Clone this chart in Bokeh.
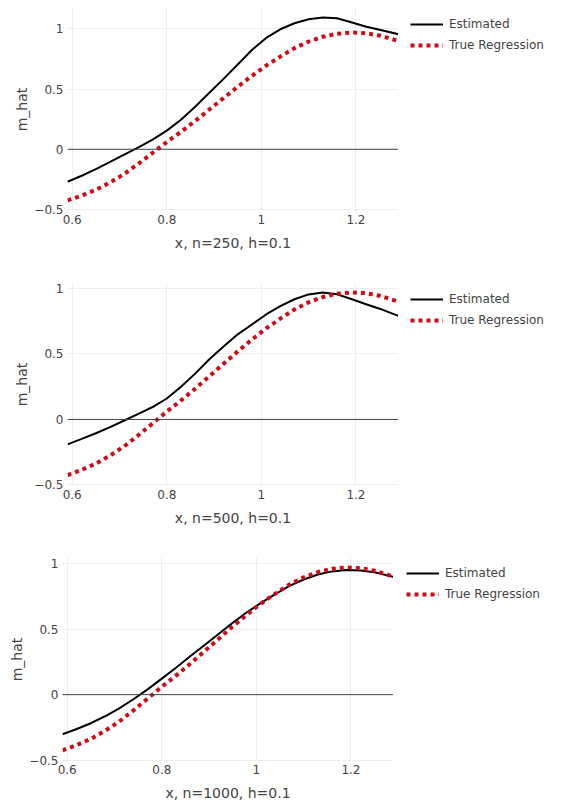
from bokeh.plotting import figure
from bokeh.layouts import column, row
from bokeh.models import Range1d, FixedTicker, Span, Legend, LegendItem, CustomJSTickFormatter
from bokeh.embed import file_html
from bokeh.resources import INLINE

# ---- data ----
x = [0.59, 0.62, 0.65, 0.68, 0.71, 0.74, 0.77, 0.80, 0.83, 0.86, 0.89, 0.92,
     0.95, 0.98, 1.01, 1.04, 1.07, 1.10, 1.13, 1.16, 1.19, 1.22, 1.25, 1.29]

true_regression = [-0.425, -0.385, -0.337, -0.276, -0.205, -0.12, -0.03, 0.06,
                   0.145, 0.235, 0.33, 0.425, 0.52, 0.61, 0.695, 0.77, 0.84,
                   0.895, 0.935, 0.96, 0.97, 0.965, 0.945, 0.90]

estimated_n250 = [-0.27, -0.22, -0.165, -0.105, -0.045, 0.015, 0.08, 0.155,
                  0.245, 0.353, 0.47, 0.585, 0.705, 0.825, 0.925, 0.997, 1.047,
                  1.08, 1.095, 1.088, 1.055, 1.02, 0.993, 0.956]

estimated_n500 = [-0.19, -0.148, -0.105, -0.058, -0.008, 0.042, 0.095, 0.16,
                  0.25, 0.35, 0.46, 0.558, 0.65, 0.725, 0.802, 0.865, 0.918,
                  0.955, 0.969, 0.956, 0.92, 0.882, 0.846, 0.791]

estimated_n1000 = [-0.302, -0.262, -0.218, -0.165, -0.105, -0.035, 0.04, 0.122,
                   0.205, 0.293, 0.377, 0.463, 0.548, 0.628, 0.70, 0.767, 0.83,
                   0.878, 0.916, 0.94, 0.95, 0.946, 0.933, 0.898]

x_ticks = [0.6, 0.8, 1.0, 1.2]
y_ticks = [-0.5, 0, 0.5, 1]
x_titles = ["x, n=250, h=0.1", "x, n=500, h=0.1", "x, n=1000, h=0.1"]
y_title = "m_hat"
legend_labels = ["Estimated", "True Regression"]

FONT = "DejaVu Sans"
TXT = "#444444"
RED = "#CD0C18"
W = 573
FRAME_W = 331

fmt_code = "var s = (Math.round(tick*10)/10).toString(); return s.replace('-', '\u2212');"


def make(est, title, yr, height, left, bottom, leg_dx, leg_m, title_standoff):
    pw = left + FRAME_W
    p = figure(width=pw, height=height, output_backend="svg", toolbar_location=None,
               x_range=Range1d(x[0], x[-1]), y_range=Range1d(*yr),
               min_border_left=left, min_border_right=0,
               min_border_top=7, min_border_bottom=bottom)
    p.outline_line_color = None
    p.background_fill_color = "white"
    for ax in (p.xaxis[0], p.yaxis[0]):
        ax.axis_line_color = None
        ax.major_tick_line_color = None
        ax.minor_tick_line_color = None
        ax.major_tick_out = 0
        ax.major_tick_in = 0
        ax.major_label_text_font = FONT
        ax.major_label_text_font_size = "12px"
        ax.major_label_text_color = TXT
        ax.axis_label_text_font = FONT
        ax.axis_label_text_font_size = "14px"
        ax.axis_label_text_font_style = "normal"
        ax.axis_label_text_color = TXT
        ax.formatter = CustomJSTickFormatter(code=fmt_code)
    p.xaxis.ticker = FixedTicker(ticks=x_ticks)
    p.yaxis.ticker = FixedTicker(ticks=y_ticks)
    p.xaxis.axis_label = title
    p.yaxis.axis_label = y_title
    p.xaxis.major_label_standoff = 3
    p.xaxis.axis_label_standoff = title_standoff
    p.yaxis.major_label_standoff = 4
    p.yaxis.axis_label_standoff = 1
    p.xgrid.ticker = FixedTicker(ticks=x_ticks)
    p.ygrid.ticker = FixedTicker(ticks=y_ticks)
    p.xgrid.grid_line_color = "#eeeeee"
    p.ygrid.grid_line_color = "#eeeeee"
    p.add_layout(Span(location=0, dimension="width", line_color=TXT, line_width=1))

    p.line(x, est, line_color="black", line_width=2)
    p.line(x, true_regression, line_color=RED, line_width=4, line_dash="4 4")

    # legend panel to the right (plotly-style outside legend)
    lw = W - pw
    lf = figure(width=lw, height=height, output_backend="svg", toolbar_location=None,
                x_range=Range1d(0, 1), y_range=Range1d(0, 1),
                x_axis_location=None, y_axis_location=None,
                min_border_left=leg_dx - leg_m, min_border_right=0,
                min_border_top=7, min_border_bottom=bottom)
    lf.outline_line_color = None
    lf.xgrid.visible = False
    lf.ygrid.visible = False
    # single-point proxies (draw nothing in view) just to carry legend glyph styles
    g1 = lf.line([x[0]], [est[0]], line_color="black", line_width=2)
    g2 = lf.line([x[0]], [true_regression[0]], line_color=RED, line_width=4, line_dash="4 4")
    legend = Legend(items=[LegendItem(label=legend_labels[0], renderers=[g1]),
                           LegendItem(label=legend_labels[1], renderers=[g2])],
                    location="top_left", orientation="vertical",
                    glyph_width=33, glyph_height=14, label_height=14,
                    label_standoff=6, spacing=7, padding=0, margin=leg_m,
                    border_line_color=None, background_fill_alpha=0,
                    label_text_font=FONT, label_text_font_size="12px",
                    label_text_color=TXT)
    lf.add_layout(legend)
    return row(p, lf)


r1 = make(estimated_n250, x_titles[0], (-0.517, 1.178), 275, 67, 64, 12, 10, 8)
r2 = make(estimated_n500, x_titles[1], (-0.512, 1.046), 275, 67, 64, 12, 10, 8)
r3 = make(estimated_n1000, x_titles[2], (-0.51, 1.046), 257, 62, 46, 13, 9, 8)

page = column(r1, r2, r3)
open("out.html", "w").write(file_html(page, INLINE))
